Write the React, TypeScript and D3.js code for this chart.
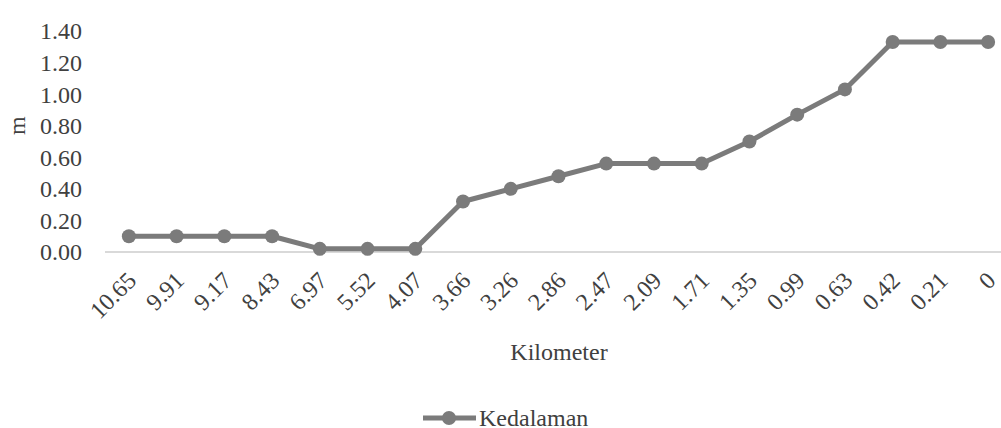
import React from "react";
import * as d3 from "d3";

const categories = ["10.65","9.91","9.17","8.43","6.97","5.52","4.07","3.66","3.26","2.86","2.47","2.09","1.71","1.35","0.99","0.63","0.42","0.21","0"];
const depth = [0.10,0.10,0.10,0.10,0.02,0.02,0.02,0.32,0.40,0.48,0.56,0.56,0.56,0.70,0.87,1.03,1.33,1.33,1.33];
const yTicks = [0,0.2,0.4,0.6,0.8,1.0,1.2,1.4];
const seriesName = "Kedalaman";

export default function App() {
  const W = 1001, H = 428;
  const x = d3.scaleBand<string>().domain(categories).range([105, 1012]);
  const y = d3.scaleLinear().domain([0, 1.4]).range([252, 31]);
  const cx = (c: string) => (x(c) as number) + x.bandwidth() / 2;
  const line = d3.line<number>().x((_, i) => cx(categories[i])).y(d => y(d));
  const col = "#7b7b7b";
  const tf: React.CSSProperties = { fontFamily: "\"Liberation Serif\", \"DejaVu Serif\", serif" };
  return (
    <svg width={W} height={H} style={{ position: "absolute", left: 0, top: 0, background: "#fff" }}>
      <line x1={105} x2={1001} y1={y(0)} y2={y(0)} stroke="#d9d9d9" strokeWidth={2} />
      {yTicks.map(t => (
        <text key={t} style={tf} x={82} y={y(t)} dy="0.35em" textAnchor="end" fontSize={24} fill="#404040">{t.toFixed(2)}</text>
      ))}
      <text style={tf} transform={`translate(25,${y(0.8)}) rotate(-90)`} textAnchor="middle" fontSize={24} fill="#404040">m</text>
      {categories.map(c => (
        <text key={c} style={tf} transform={`translate(${cx(c) + 3},${276}) rotate(-45)`} textAnchor="end" fontSize={24} fill="#404040" dy="0.35em">{c}</text>
      ))}
      <path d={line(depth) || ""} fill="none" stroke={col} strokeWidth={5} strokeLinejoin="round" />
      {depth.map((d, i) => (
        <circle key={i} cx={cx(categories[i])} cy={y(d)} r={7} fill={col} />
      ))}
      <text style={tf} x={559} y={360} textAnchor="middle" fontSize={24} fill="#404040">Kilometer</text>
      <line x1={423} x2={476} y1={418} y2={418} stroke={col} strokeWidth={5} />
      <circle cx={449} cy={418} r={7} fill={col} />
      <text style={tf} x={479} y={426} fontSize={24} fill="#404040">{seriesName}</text>
    </svg>
  );
}
